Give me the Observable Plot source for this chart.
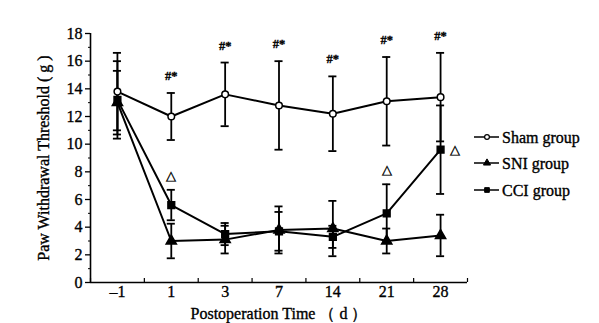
<!DOCTYPE html>
<html>
<head>
<meta charset="utf-8">
<script src="https://cdn.jsdelivr.net/npm/d3@7"></script>
<script src="https://cdn.jsdelivr.net/npm/@observablehq/plot@0.6"></script>
<style>
  html, body { margin: 0; padding: 0; background: white; }
  #chart { width: 599px; height: 323px; }
  #chart svg, #chart svg text { font-family: "Liberation Serif", "Times New Roman", serif !important; }
  #chart svg text { stroke: black; stroke-width: 0.35px; }
</style>
</head>
<body>
<div id="chart"></div>
<script>
// Category tick labels (postoperation day)
const days = ["–1", "1", "3", "7", "14", "21", "28"];
const groups = ["Sham group", "SNI group", "CCI group"];

// Means and SDs
const shamMean = [13.8, 12.0, 13.6, 12.8, 12.2, 13.1, 13.4];
const shamSD   = [2.8, 1.7, 2.3, 3.2, 2.7, 3.2, 3.2];
const sniMean  = [13.0, 3.0, 3.1, 3.8, 3.9, 3.0, 3.4];
const sniSD    = [2.3, 1.25, 1.0, 1.7, 2.0, 0.9, 1.5];
const cciMean  = [13.2, 5.6, 3.5, 3.7, 3.3, 5.0, 9.6];
const cciSD    = [2.8, 1.1, 0.8, 1.4, 0.8, 2.1, 3.2];

// Significance marks
const hashDays = [1, 2, 3, 4, 5, 6];        // "#*" above Sham
const triDaysAbove = [1, 5];                 // "△" above CCI
const triDaysRight = [6];                    // "△" right of CCI

const seriesMeans = [shamMean, sniMean, cciMean];
const seriesSDs = [shamSD, sniSD, cciSD];
const rows = [];
groups.forEach((g, k) => {
  days.forEach((d, i) => rows.push({group: g, i, mean: seriesMeans[k][i], sd: seriesSDs[k][i]}));
});
const caps = rows.flatMap(r => [{...r, y: r.mean + r.sd}, {...r, y: r.mean - r.sd}]);
const byGroup = g => rows.filter(r => r.group === g);
const hashRows = hashDays.map(i => ({i, y: shamMean[i] + shamSD[i]}));
const triAbove = triDaysAbove.map(i => ({i, y: cciMean[i] + cciSD[i]}));
const triRight = triDaysRight.map(i => ({i, y: cciMean[i]}));

const font = "Liberation Serif, serif";
const capHalf = 0.075;

const chart = Plot.plot({
  width: 599,
  height: 323,
  marginLeft: 90,
  marginRight: 132,
  marginTop: 33,
  marginBottom: 41,
  style: {"font-family": font, "font-size": "16px", color: "black", background: "white", overflow: "visible"},
  x: {domain: [-0.5, 6.5], axis: null},
  y: {domain: [0, 18], axis: null},
  marks: [
    Plot.ruleY([0], {stroke: "black", strokeWidth: 1.6}),
    Plot.ruleX([-0.5], {stroke: "black", strokeWidth: 1.6}),
    Plot.axisY({ticks: d3.range(0, 19, 2), tickSize: 5, tickPadding: 3, fontSize: 16, fontFamily: font,
      label: "Paw Withdrawal Threshold ( g )", labelAnchor: "center", labelArrow: "none", labelOffset: 53, strokeWidth: 1.3}),
    Plot.axisY({ticks: d3.range(1, 18, 2), tickSize: 2, tickFormat: () => "", label: null}),
    Plot.axisX({ticks: d3.range(0, 7), tickFormat: i => days[i], tickSize: 0, tickPadding: 3, fontSize: 16, fontFamily: font,
      label: "Postoperation Time （ d ）", labelAnchor: "center", labelArrow: "none", labelOffset: 36}),
    Plot.axisX({ticks: d3.range(-0.5, 7, 1), tickSize: -4, tickFormat: () => "", label: null, strokeWidth: 1.2}),
    // error bars
    Plot.ruleX(rows, {x: "i", y1: d => d.mean - d.sd, y2: d => d.mean + d.sd, stroke: "black", strokeWidth: 1.8}),
    Plot.ruleY(caps, {y: "y", x1: d => d.i - capHalf, x2: d => d.i + capHalf, stroke: "black", strokeWidth: 1.8}),
    // lines
    Plot.line(rows, {x: "i", y: "mean", z: "group", stroke: "black", strokeWidth: 2}),
    // markers
    Plot.dot(byGroup("CCI group"), {x: "i", y: "mean", symbol: "square", r: 3.8, fill: "black", stroke: "black"}),
    Plot.dot(byGroup("SNI group"), {x: "i", y: "mean", symbol: "triangle", r: 3.8, fill: "black", stroke: "black"}),
    Plot.dot(byGroup("Sham group"), {x: "i", y: "mean", symbol: "circle", r: 3.3, fill: "white", stroke: "black", strokeWidth: 1.5}),
    // annotations
    Plot.text(hashRows, {x: "i", y: "y", text: () => "#*", dy: -17, fontSize: 12.5, fontWeight: "bold", fontFamily: font}),
    Plot.text(triAbove, {x: "i", y: "y", text: () => "△", dy: -14, fontSize: 13}),
    Plot.text(triRight, {x: "i", y: "y", text: () => "△", dx: 14, fontSize: 13})
  ]
});

// Legend drawn inside the SVG on the right
const svg = d3.select(chart);
const legendY = [137, 163, 190];
const symbols = [d3.symbolCircle, d3.symbolTriangle, d3.symbolSquare];
const lg = svg.append("g").attr("font-size", 16).attr("text-anchor", "start");
groups.forEach((g, k) => {
  const row = lg.append("g").attr("transform", `translate(0,${legendY[k]})`);
  row.append("line").attr("x1", 474).attr("x2", 499).attr("stroke", "black").attr("stroke-width", 1.5);
  row.append("path").attr("transform", "translate(487,0)")
    .attr("d", d3.symbol(symbols[k], k === 0 ? 18 : 22)())
    .attr("fill", k === 0 ? "white" : "black").attr("stroke", "black").attr("stroke-width", k === 0 ? 1.2 : 1);
  row.append("text").attr("x", 502).attr("dy", "0.35em").attr("fill", "black")
    .style("font-family", font).style("text-anchor", "start").text(g);
});

document.getElementById("chart").appendChild(chart);
</script>
</body>
</html>
